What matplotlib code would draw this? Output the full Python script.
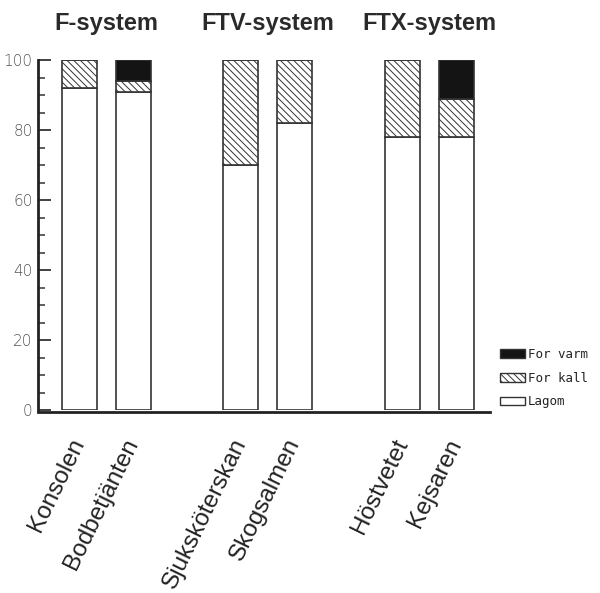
import matplotlib
matplotlib.use("Agg")
import matplotlib.pyplot as plt
from matplotlib import font_manager
from matplotlib.ticker import MultipleLocator
from matplotlib.patches import Patch

# Survey answers per building (percent of respondents)
buildings = ["Konsolen", "Bodbetjänten", "Sjuksköterskan", "Skogsalmen", "Höstvetet", "Kejsaren"]
positions = [0, 1, 3, 4, 6, 7]
lagom = [92, 91, 70, 82, 78, 78]
for_kall = [8, 3, 30, 18, 22, 11]
for_varm = [0, 6, 0, 0, 0, 11]

groups = ["F-system", "FTV-system", "FTX-system"]
group_centres = [0.5, 3.5, 6.5]

series_labels = ["Lagom", "For kall", "For varm"]

available = {f.name for f in font_manager.fontManager.ttflist}
label_font = "Liberation Sans Narrow" if "Liberation Sans Narrow" in available else "Liberation Sans"

plt.rcParams["hatch.linewidth"] = 0.7
plt.rcParams["hatch.color"] = "#333333"

fig = plt.figure(figsize=(6.0, 5.93), dpi=100)
ax = fig.add_axes([38 / 600, 183 / 593, 452 / 600, 350 / 593])

width = 0.65
edge = "#333333"
ax.bar(positions, lagom, width, color="white", edgecolor=edge, linewidth=1.2,
       label=series_labels[0])
ax.bar(positions, for_kall, width, bottom=lagom, color="white", edgecolor=edge,
       linewidth=1.2, hatch="\\\\\\\\\\", label=series_labels[1])
bottom_varm = [a + b for a, b in zip(lagom, for_kall)]
ax.bar(positions, for_varm, width, bottom=bottom_varm, color="#141414",
       edgecolor=edge, linewidth=1.2, label=series_labels[2])

ax.set_xlim(-0.77, 7.63)
ax.set_ylim(0, 100)

for side in ("top", "right"):
    ax.spines[side].set_visible(False)
ax.spines["left"].set_linewidth(2.0)
ax.spines["left"].set_color("#222222")
ax.spines["bottom"].set_linewidth(2.0)
ax.spines["bottom"].set_color("#222222")
ax.spines["bottom"].set_position(("outward", 1.5))

ax.yaxis.set_major_locator(MultipleLocator(20))
ax.yaxis.set_minor_locator(MultipleLocator(5))
ax.tick_params(axis="y", which="major", direction="in", length=9, width=1.3,
               color="#333333", labelsize=11, labelcolor="#555555", pad=4)
ax.tick_params(axis="y", which="minor", direction="in", length=5, width=1.1,
               color="#333333")
for lbl in ax.get_yticklabels():
    lbl.set_fontfamily("DejaVu Sans")
    lbl.set_fontweight("light")

ax.set_xticks(positions)
ax.set_xticklabels(buildings, rotation=64, ha="right", va="center",
                   rotation_mode="anchor", fontsize=17.5, family=label_font,
                   color="#222222")
ax.tick_params(axis="x", length=0, pad=20)

for name, cx in zip(groups, group_centres):
    ax.text(cx, 1.103, name, transform=ax.get_xaxis_transform(), ha="center",
            va="center", fontsize=17, fontweight="bold", family="Liberation Sans",
            color="#2a2a2a")

handles = [
    Patch(facecolor="#141414", edgecolor=edge, label="For varm"),
    Patch(facecolor="white", edgecolor=edge, hatch="\\\\\\\\\\", label="For kall"),
    Patch(facecolor="white", edgecolor=edge, label="Lagom"),
]
fig.legend(handles=handles, loc="upper left", bbox_to_anchor=(500 / 600, 1 - 348 / 593),
           frameon=False, prop={"family": "DejaVu Sans Mono", "size": 9},
           handlelength=2.0, handleheight=0.7, handletextpad=0.2,
           labelspacing=0.85, borderpad=0, borderaxespad=0, labelcolor="#222222")

fig.savefig("out.png", dpi=100, facecolor="white")
